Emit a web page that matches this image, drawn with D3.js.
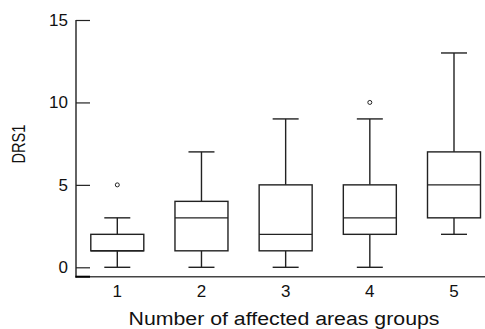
<!DOCTYPE html>
<html>
<head>
<meta charset="utf-8">
<script src="https://cdn.jsdelivr.net/npm/d3@7"></script>
<style>
  body { margin: 0; background: #fff; }
  text { font-family: "Liberation Sans", Arial, sans-serif; fill: #111; }
</style>
</head>
<body>
<svg id="chart" width="485" height="329"></svg>
<script>
// box plot data
const groups = ["1", "2", "3", "4", "5"];
const mins = [0, 0, 0, 0, 2];
const q1s = [1, 1, 1, 2, 3];
const medians = [1, 3, 2, 3, 5];
const q3s = [2, 4, 5, 5, 7];
const maxs = [3, 7, 9, 9, 13];
const outliers = [[5], [], [], [10], []];
const yTicks = [0, 5, 10, 15];

const svg = d3.select("#chart");
const boxW = 53, capW = 26;

const x = d3.scalePoint()
  .domain(groups)
  .range([117.3, 454]);

const y = d3.scaleLinear()
  .domain([0, 15])
  .range([267.3, 20]);

const stroke = "#222";

// y axis (ticks pointing inward)
const yAxis = svg.append("g")
  .attr("transform", "translate(76,0)")
  .call(d3.axisRight(y).tickValues(yTicks).tickSize(14).tickFormat(d3.format("d")));
yAxis.select(".domain").remove();
yAxis.selectAll(".tick line").attr("stroke", stroke).attr("stroke-width", 1.2);
yAxis.selectAll(".tick text")
  .attr("x", -8)
  .attr("text-anchor", "end")
  .attr("font-size", 17)
  .attr("font-family", "Liberation Sans, Arial, sans-serif");

svg.append("line")
  .attr("x1", 76).attr("x2", 76)
  .attr("y1", y(15)).attr("y2", 277.5)
  .attr("stroke", stroke).attr("stroke-width", 1.4);

// x axis: plain line, labels only
svg.append("line")
  .attr("x1", 75.5).attr("x2", 485)
  .attr("y1", 276.7).attr("y2", 276.7)
  .attr("stroke", "#444").attr("stroke-width", 1.4);
svg.append("line")
  .attr("x1", 75.5).attr("x2", 90)
  .attr("y1", 276.7).attr("y2", 276.7)
  .attr("stroke", "#000").attr("stroke-width", 2);

svg.append("g").selectAll("text")
  .data(groups)
  .join("text")
  .attr("x", d => x(d))
  .attr("y", 296.5)
  .attr("text-anchor", "middle")
  .attr("font-size", 17)
  .text(d => d);

// boxes
const g = svg.append("g")
  .attr("stroke", stroke)
  .attr("stroke-width", 1.4)
  .attr("fill", "none");

groups.forEach((k, i) => {
  const cx = x(k);
  // whiskers
  g.append("line").attr("x1", cx).attr("x2", cx).attr("y1", y(q3s[i])).attr("y2", y(maxs[i]));
  g.append("line").attr("x1", cx).attr("x2", cx).attr("y1", y(q1s[i])).attr("y2", y(mins[i]));
  g.append("line").attr("x1", cx - capW / 2).attr("x2", cx + capW / 2).attr("y1", y(maxs[i])).attr("y2", y(maxs[i]));
  g.append("line").attr("x1", cx - capW / 2).attr("x2", cx + capW / 2).attr("y1", y(mins[i])).attr("y2", y(mins[i]));
  // box
  g.append("rect")
    .attr("x", cx - boxW / 2)
    .attr("y", y(q3s[i]))
    .attr("width", boxW)
    .attr("height", y(q1s[i]) - y(q3s[i]))
    .attr("fill", "#fff");
  g.append("line").attr("x1", cx - boxW / 2).attr("x2", cx + boxW / 2).attr("y1", y(medians[i])).attr("y2", y(medians[i]));
  // outliers
  outliers[i].forEach(v => {
    g.append("circle").attr("cx", cx).attr("cy", y(v)).attr("r", 2).attr("stroke-width", 1);
  });
});

// axis titles
svg.append("text")
  .attr("transform", "translate(25,144) rotate(-90)")
  .attr("text-anchor", "middle")
  .attr("font-size", 18)
  .attr("textLength", 39)
  .attr("lengthAdjust", "spacingAndGlyphs")
  .text("DRS1");

svg.append("text")
  .attr("x", 284)
  .attr("y", 325)
  .attr("text-anchor", "middle")
  .attr("font-size", 18)
  .attr("textLength", 311)
  .attr("lengthAdjust", "spacingAndGlyphs")
  .text("Number of affected areas groups");
</script>
</body>
</html>
